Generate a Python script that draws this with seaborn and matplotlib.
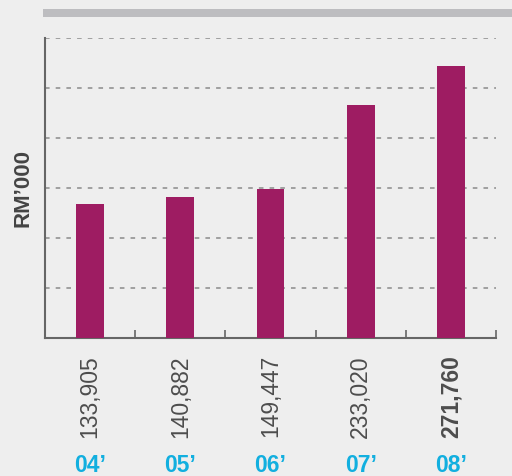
import matplotlib
matplotlib.use("Agg")
import matplotlib.pyplot as plt
import matplotlib.transforms as mtransforms
import seaborn as sns
import pandas as pd

years = ["04’", "05’", "06’", "07’", "08’"]
values = [133905, 140882, 149447, 233020, 271760]
value_labels = ["133,905", "140,882", "149,447", "233,020", "271,760"]
grid_levels = [50000, 100000, 150000, 200000, 250000, 300000]

sns.set_style("white")
plt.rcParams['font.family'] = ['Liberation Sans', 'DejaVu Sans']

bg = "#eeeeee"
fig = plt.figure(figsize=(5.12, 4.76), dpi=100, facecolor=bg)
ax = fig.add_axes([45/512, 1-338/476, 451/512, 300/476])
ax.set_facecolor(bg)

df = pd.DataFrame({"year": years, "value": values})
sns.barplot(data=df, x="year", y="value", color="#9e1c62", saturation=1,
            width=0.31, ax=ax, zorder=3, linewidth=0, edgecolor="none")

ax.set_xlim(-0.5, 4.5)
ax.set_ylim(0, 300000)
for g in grid_levels:
    ax.axhline(g, color="#8a8a8a", lw=1.1, ls=(0, (3, 4)), zorder=1)

for s in ["top", "right"]:
    ax.spines[s].set_visible(False)
for s in ["left", "bottom"]:
    ax.spines[s].set_color("#666666")
    ax.spines[s].set_linewidth(1.5)

ax.set_yticks([])
ax.set_xticks([i + 0.5 for i in range(-1, 5)])
ax.set_xticklabels([])
ax.tick_params(axis="x", bottom=True, direction="in", length=6, width=1.2,
               color="#666666")
ax.set_xlabel("")
ax.set_ylabel("")

trans = mtransforms.blended_transform_factory(ax.transData, fig.transFigure)
for i, lab in enumerate(value_labels):
    ax.text(i, 1-355/476, lab, rotation=90, ha="center", va="top",
            fontsize=16.5, color="#4d4d4d",
            fontweight="bold" if i == len(value_labels)-1 else "normal",
            transform=trans, clip_on=False)
    ax.text(i, 1-472/476, years[i], ha="center", va="baseline",
            fontsize=16.5, fontweight="bold", color="#12afdf",
            transform=trans, clip_on=False)

fig.text(23/512, 1-188/476, "RM’000", rotation=90, ha="center", va="center",
         fontsize=16, fontweight="bold", color="#444444")

# top gray band
fig.patches.append(plt.Rectangle((43/512, 1-17/476), 1-43/512, 8/476,
                                 transform=fig.transFigure, color="#bdbdc0",
                                 lw=0))

fig.savefig("out.png", dpi=100, facecolor=bg)
